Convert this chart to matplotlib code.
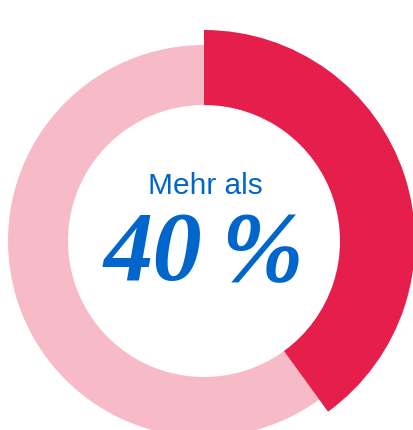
import matplotlib
matplotlib.use("Agg")
import matplotlib.pyplot as plt

# share of the ring: highlighted part vs. rest
labels = ["Mehr als 40 %", "Rest"]
values = [40, 60]
headline = "Mehr als"
big_text = "40\u2009%"

RED = "#E61E4B"
PINK = "#F6BBC7"
BLUE = "#0066CC"

W, H = 413, 431
fig = plt.figure(figsize=(W / 100, H / 100), dpi=100)
ax = fig.add_axes([0, 0, 1, 1])

cx, cy = 204, H - 242
r_in = 136

# pale ring (rest), drawn with the highlighted slice left empty
ax.pie(values, radius=196, center=(cx, cy), startangle=90, counterclock=False,
       colors=["none", PINK], wedgeprops=dict(width=196 - r_in, linewidth=0))
# highlighted slice, a bit larger than the ring
ax.pie(values, radius=211, center=(cx, cy), startangle=90, counterclock=False,
       colors=[RED, "none"], wedgeprops=dict(width=211 - r_in, linewidth=0))
ax.set_xlim(0, W)
ax.set_ylim(0, H)
ax.set_aspect("auto")
ax.axis("off")

ax.text(cx + 1, H - 194, headline, ha="center", va="baseline", color=BLUE,
        fontsize=21.5, family=["Liberation Sans", "DejaVu Sans"])
ax.text(cx, H - 280, big_text, ha="center", va="baseline", color=BLUE,
        fontsize=71, fontstyle="italic", fontweight="bold",
        family=["Liberation Serif", "DejaVu Serif"])

fig.savefig("out.png", dpi=100)
